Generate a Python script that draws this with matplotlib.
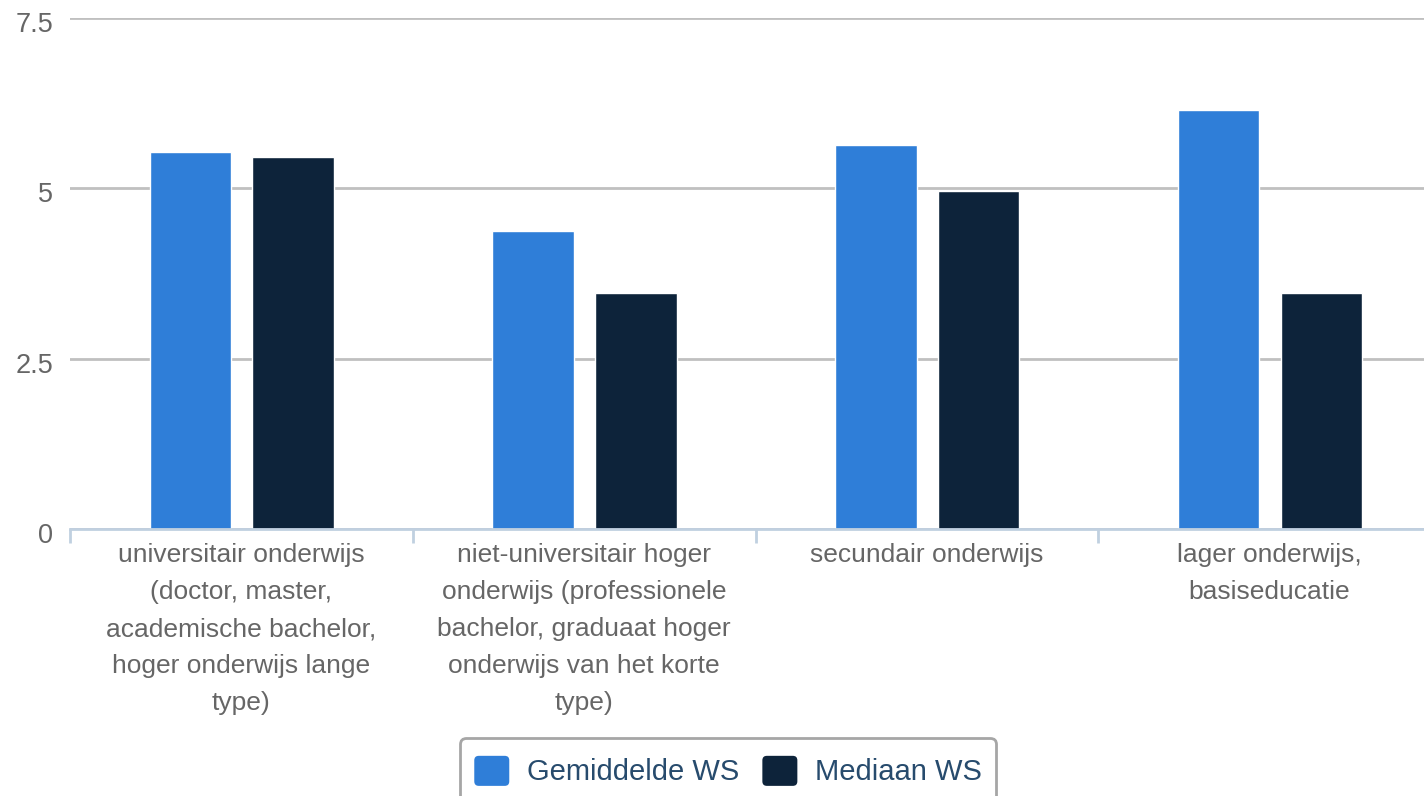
import matplotlib
matplotlib.use("Agg")
import matplotlib.pyplot as plt
import matplotlib.transforms as mtransforms
from matplotlib.patches import Patch, FancyBboxPatch
from matplotlib.legend_handler import HandlerBase
import numpy as np

categories = [
    "universitair onderwijs\n(doctor, master,\nacademische bachelor,\nhoger onderwijs lange\ntype)",
    "niet-universitair hoger\nonderwijs (professionele\nbachelor, graduaat hoger\nonderwijs van het korte\ntype)",
    "secundair onderwijs",
    "lager onderwijs,\nbasiseducatie",
]
gemiddelde = [5.53, 4.37, 5.64, 6.15]
mediaan = [5.46, 3.47, 4.96, 3.47]
series_names = ["Gemiddelde WS", "Mediaan WS"]
yticks = [0, 2.5, 5, 7.5]
ytick_labels = ["0", "2.5", "5", "7.5"]

plt.rcParams['font.family'] = ['Liberation Sans', 'DejaVu Sans']

W, H = 1424, 796
fig = plt.figure(figsize=(W / 100, H / 100), dpi=100)
ax = fig.add_axes([70 / W, (H - 529) / H, 1371 / W, 511 / H])

x = np.arange(len(categories))
bw = 0.238
c1, c2 = "#2f7ed8", "#0d233a"
ax.bar(x - 0.149, gemiddelde, bw, color=c1, edgecolor="white", linewidth=1, zorder=3)
ax.bar(x + 0.151, mediaan, bw, color=c2, edgecolor="white", linewidth=1, zorder=3)

ax.set_xlim(-0.5, len(categories) - 0.5)
ax.set_ylim(0, 7.5)
ax.set_yticks(yticks)
ax.set_yticklabels(ytick_labels)
ax.yaxis.grid(True, color="#c0c0c0", linewidth=2, zorder=0)
ax.set_axisbelow(True)

for s in ["top", "right", "left"]:
    ax.spines[s].set_visible(False)
ax.spines["bottom"].set_color("#c0d0e0")
ax.spines["bottom"].set_linewidth(2)
ax.spines["bottom"].set_zorder(4)

ax.tick_params(axis="y", length=0, pad=12, labelsize=19.5, labelcolor="#666666")
offset = mtransforms.ScaledTranslation(0, -4 / 100, fig.dpi_scale_trans)
for lab in ax.get_yticklabels():
    lab.set_transform(lab.get_transform() + offset)

ax.set_xticks(x)
ax.set_xticklabels(categories, fontsize=19, color="#666666", linespacing=1.69, va="top")
ax.tick_params(axis="x", which="major", length=0, pad=10)
ax.set_xticks(np.arange(-0.5, len(categories) + 0.5, 1), minor=True)
ax.tick_params(axis="x", which="minor", length=10, width=2, color="#c0d0e0")


class RoundBox(HandlerBase):
    def create_artists(self, legend, orig_handle, xdescent, ydescent,
                       width, height, fontsize, trans):
        h = fontsize * 1.03
        y0 = -ydescent + (height - h) / 2
        p = FancyBboxPatch((-xdescent, y0), width, h,
                           boxstyle="round,pad=0,rounding_size=%f" % (h * 0.15),
                           facecolor=orig_handle.get_facecolor(), edgecolor="none",
                           transform=trans)
        return [p]


handles = [Patch(facecolor=c1), Patch(facecolor=c2)]
leg = fig.legend(handles, series_names, loc="upper center",
                 bbox_to_anchor=(728 / W, (H - 738) / H), ncol=2,
                 fontsize=21, frameon=True, fancybox=True, borderaxespad=0,
                 handlelength=1.2, handleheight=1.55, handletextpad=0.6,
                 columnspacing=0.8, borderpad=0.5,
                 handler_map={Patch: RoundBox()})
leg.get_frame().set_edgecolor("#909090")
leg.get_frame().set_linewidth(2)
for t in leg.get_texts():
    t.set_color("#274b6d")

fig.savefig("out.png", dpi=100)
